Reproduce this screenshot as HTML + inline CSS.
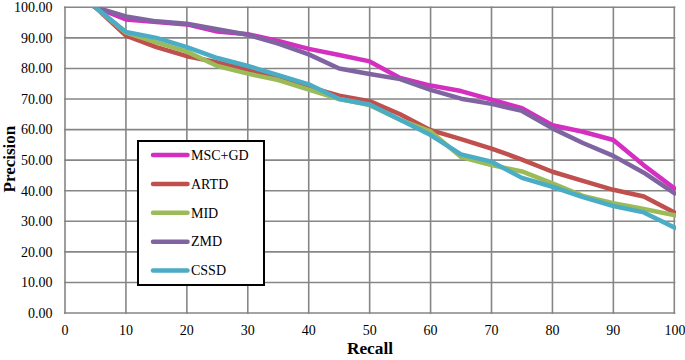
<!DOCTYPE html>
<html><head><meta charset="utf-8"><style>
html,body{margin:0;padding:0;background:#fff;width:685px;height:360px;overflow:hidden}
svg{display:block}
text{font-family:"Liberation Serif",serif;fill:#000}
</style></head><body>
<svg width="685" height="360" viewBox="0 0 685 360">
<rect width="685" height="360" fill="#fff"/>

<line x1="64.0" y1="313.00" x2="675.3" y2="313.00" stroke="#868686" stroke-width="1.6"/>
<line x1="64.0" y1="282.43" x2="675.3" y2="282.43" stroke="#868686" stroke-width="1.6"/>
<line x1="64.0" y1="251.86" x2="675.3" y2="251.86" stroke="#868686" stroke-width="1.6"/>
<line x1="64.0" y1="221.29" x2="675.3" y2="221.29" stroke="#868686" stroke-width="1.6"/>
<line x1="64.0" y1="190.72" x2="675.3" y2="190.72" stroke="#868686" stroke-width="1.6"/>
<line x1="64.0" y1="160.15" x2="675.3" y2="160.15" stroke="#868686" stroke-width="1.6"/>
<line x1="64.0" y1="129.58" x2="675.3" y2="129.58" stroke="#868686" stroke-width="1.6"/>
<line x1="64.0" y1="99.01" x2="675.3" y2="99.01" stroke="#868686" stroke-width="1.6"/>
<line x1="64.0" y1="68.44" x2="675.3" y2="68.44" stroke="#868686" stroke-width="1.6"/>
<line x1="64.0" y1="37.87" x2="675.3" y2="37.87" stroke="#868686" stroke-width="1.6"/>
<line x1="64.0" y1="7.30" x2="675.3" y2="7.30" stroke="#868686" stroke-width="1.6"/>
<line x1="65.00" y1="6.40" x2="65.00" y2="313.90" stroke="#868686" stroke-width="1.6"/>
<line x1="125.93" y1="6.40" x2="125.93" y2="313.90" stroke="#868686" stroke-width="1.6"/>
<line x1="186.86" y1="6.40" x2="186.86" y2="313.90" stroke="#868686" stroke-width="1.6"/>
<line x1="247.79" y1="6.40" x2="247.79" y2="313.90" stroke="#868686" stroke-width="1.6"/>
<line x1="308.72" y1="6.40" x2="308.72" y2="313.90" stroke="#868686" stroke-width="1.6"/>
<line x1="369.65" y1="6.40" x2="369.65" y2="313.90" stroke="#868686" stroke-width="1.6"/>
<line x1="430.58" y1="6.40" x2="430.58" y2="313.90" stroke="#868686" stroke-width="1.6"/>
<line x1="491.51" y1="6.40" x2="491.51" y2="313.90" stroke="#868686" stroke-width="1.6"/>
<line x1="552.44" y1="6.40" x2="552.44" y2="313.90" stroke="#868686" stroke-width="1.6"/>
<line x1="613.37" y1="6.40" x2="613.37" y2="313.90" stroke="#868686" stroke-width="1.6"/>
<line x1="674.30" y1="6.40" x2="674.30" y2="313.90" stroke="#868686" stroke-width="1.6"/>
<text x="52.5" y="317.80" font-size="14" text-anchor="end">0.00</text>
<text x="52.5" y="287.23" font-size="14" text-anchor="end">10.00</text>
<text x="52.5" y="256.66" font-size="14" text-anchor="end">20.00</text>
<text x="52.5" y="226.09" font-size="14" text-anchor="end">30.00</text>
<text x="52.5" y="195.52" font-size="14" text-anchor="end">40.00</text>
<text x="52.5" y="164.95" font-size="14" text-anchor="end">50.00</text>
<text x="52.5" y="134.38" font-size="14" text-anchor="end">60.00</text>
<text x="52.5" y="103.81" font-size="14" text-anchor="end">70.00</text>
<text x="52.5" y="73.24" font-size="14" text-anchor="end">80.00</text>
<text x="52.5" y="42.67" font-size="14" text-anchor="end">90.00</text>
<text x="52.5" y="12.10" font-size="14" text-anchor="end">100.00</text>
<text x="65.00" y="334.8" font-size="14" text-anchor="middle">0</text>
<text x="125.93" y="334.8" font-size="14" text-anchor="middle">10</text>
<text x="186.86" y="334.8" font-size="14" text-anchor="middle">20</text>
<text x="247.79" y="334.8" font-size="14" text-anchor="middle">30</text>
<text x="308.72" y="334.8" font-size="14" text-anchor="middle">40</text>
<text x="369.65" y="334.8" font-size="14" text-anchor="middle">50</text>
<text x="430.58" y="334.8" font-size="14" text-anchor="middle">60</text>
<text x="491.51" y="334.8" font-size="14" text-anchor="middle">70</text>
<text x="552.44" y="334.8" font-size="14" text-anchor="middle">80</text>
<text x="613.37" y="334.8" font-size="14" text-anchor="middle">90</text>
<text x="675.10" y="334.8" font-size="14" text-anchor="middle">100</text>
<text x="370" y="354" font-size="17.3" font-weight="bold" text-anchor="middle">Recall</text>
<text transform="translate(15.3,159.1) rotate(-90)" x="0" y="0" font-size="17" font-weight="bold" text-anchor="middle">Precision</text>
<defs><clipPath id="pc"><rect x="60" y="7.6" width="616" height="310"/></clipPath></defs><g clip-path="url(#pc)">
<polyline points="95.47,7.30 125.93,19.53 156.39,21.97 186.86,24.42 217.32,31.45 247.79,34.20 278.25,40.93 308.72,48.88 339.18,54.99 369.65,61.41 400.12,77.92 430.58,85.56 461.05,91.06 491.51,99.62 521.98,108.18 552.44,125.30 582.90,131.72 613.37,139.97 643.83,165.35 674.30,188.27" fill="none" stroke="#D42FC0" stroke-width="4.5" stroke-linejoin="round" stroke-linecap="square"/>
<polyline points="95.47,7.30 125.93,35.73 156.39,47.04 186.86,56.21 217.32,62.33 247.79,69.66 278.25,77.31 308.72,86.78 339.18,95.65 369.65,101.15 400.12,114.29 430.58,130.19 461.05,139.06 491.51,148.53 521.98,159.54 552.44,171.77 582.90,180.94 613.37,189.80 643.83,196.53 674.30,212.42" fill="none" stroke="#C0504D" stroke-width="4.5" stroke-linejoin="round" stroke-linecap="square"/>
<polyline points="95.47,7.30 125.93,32.67 156.39,42.46 186.86,51.63 217.32,65.99 247.79,73.64 278.25,80.06 308.72,89.53 339.18,99.01 369.65,105.12 400.12,119.80 430.58,131.41 461.05,157.09 491.51,165.04 521.98,171.46 552.44,183.38 582.90,195.92 613.37,203.25 643.83,209.06 674.30,215.18" fill="none" stroke="#9BBB59" stroke-width="4.5" stroke-linejoin="round" stroke-linecap="square"/>
<polyline points="95.47,7.30 125.93,16.47 156.39,21.36 186.86,23.81 217.32,29.31 247.79,34.81 278.25,43.68 308.72,54.38 339.18,68.44 369.65,73.94 400.12,79.14 430.58,89.84 461.05,98.70 491.51,103.90 521.98,110.93 552.44,128.36 582.90,143.03 613.37,155.87 643.83,172.68 674.30,193.17" fill="none" stroke="#8064A2" stroke-width="4.5" stroke-linejoin="round" stroke-linecap="square"/>
<polyline points="95.47,7.30 125.93,32.06 156.39,37.87 186.86,47.04 217.32,58.05 247.79,65.99 278.25,75.17 308.72,84.34 339.18,99.01 369.65,104.51 400.12,119.80 430.58,135.08 461.05,154.34 491.51,161.68 521.98,177.88 552.44,186.75 582.90,197.14 613.37,206.00 643.83,212.42 674.30,227.40" fill="none" stroke="#4BACC6" stroke-width="4.5" stroke-linejoin="round" stroke-linecap="square"/>
</g>
<rect x="138" y="141" width="126" height="144" fill="#fff" stroke="#000" stroke-width="2"/>
<line x1="153" y1="155.10" x2="187.5" y2="155.10" stroke="#D42FC0" stroke-width="4.5" stroke-linecap="round"/>
<text x="191" y="159.80" font-size="14">MSC+GD</text>
<line x1="153" y1="183.95" x2="187.5" y2="183.95" stroke="#C0504D" stroke-width="4.5" stroke-linecap="round"/>
<text x="191" y="188.65" font-size="14">ARTD</text>
<line x1="153" y1="212.80" x2="187.5" y2="212.80" stroke="#9BBB59" stroke-width="4.5" stroke-linecap="round"/>
<text x="191" y="217.50" font-size="14">MID</text>
<line x1="153" y1="241.65" x2="187.5" y2="241.65" stroke="#8064A2" stroke-width="4.5" stroke-linecap="round"/>
<text x="191" y="246.35" font-size="14">ZMD</text>
<line x1="153" y1="270.50" x2="187.5" y2="270.50" stroke="#4BACC6" stroke-width="4.5" stroke-linecap="round"/>
<text x="191" y="275.20" font-size="14">CSSD</text>
</svg>
</body></html>
